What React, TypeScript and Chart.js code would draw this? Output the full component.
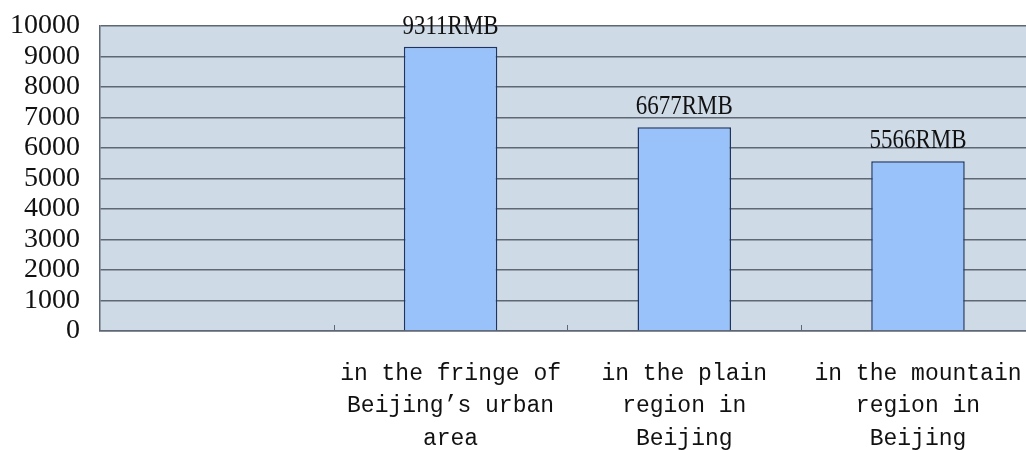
import React, { useEffect, useRef } from "react";
import { Chart, registerables } from "chart.js";

Chart.register(...registerables);

const categories: (string | string[])[] = [
  "",
  ["in the fringe of", "Beijing’s urban", "area"],
  ["in the plain", "region in", "Beijing"],
  ["in the mountain", "region in", "Beijing"],
];
const incomeValues: (number | null)[] = [null, 9311, 6677, 5566];
const valueLabels: string[] = ["", "9311RMB", "6677RMB", "5566RMB"];
const yMin = 0;
const yMax = 10000;
const yStep = 1000;

const PLOT_BG = "#cfdae7";
const GRID = "#5f6674";
const BAR_FILL = "#99c2fb";
const BAR_BORDER = "#1e3461";

const plotBg = {
  id: "plotBg",
  beforeDraw(chart: any) {
    const { ctx, chartArea } = chart;
    ctx.save();
    ctx.fillStyle = "#ffffff";
    ctx.fillRect(0, 0, chart.width, chart.height);
    ctx.fillStyle = PLOT_BG;
    ctx.fillRect(chartArea.left, chartArea.top, chartArea.right - chartArea.left, chartArea.bottom - chartArea.top);
    ctx.restore();
  },
};

const innerTicks = {
  id: "innerTicks",
  afterDatasetsDraw(chart: any) {
    const { ctx, chartArea } = chart;
    const x = chart.scales.x;
    ctx.save();
    ctx.strokeStyle = GRID;
    ctx.lineWidth = 1;
    for (let i = 0; i < categories.length - 1; i++) {
      const px = Math.round((x.getPixelForTick(i) + x.getPixelForTick(i + 1)) / 2) + 0.5;
      ctx.beginPath();
      ctx.moveTo(px, chartArea.bottom);
      ctx.lineTo(px, chartArea.bottom - 6);
      ctx.stroke();
    }
    ctx.restore();
  },
};

const valueLabelPlugin = {
  id: "valueLabels",
  afterDatasetsDraw(chart: any) {
    const { ctx } = chart;
    const meta = chart.getDatasetMeta(0);
    ctx.save();
    ctx.fillStyle = "#111111";
    ctx.font = "27px 'Liberation Serif'";
    ctx.textAlign = "center";
    ctx.textBaseline = "alphabetic";
    meta.data.forEach((bar: any, i: number) => {
      if (incomeValues[i] == null) return;
      ctx.save();
      ctx.translate(bar.x, bar.y - 13);
      ctx.scale(0.85, 1);
      ctx.fillText(valueLabels[i], 0, 0);
      ctx.restore();
    });
    ctx.restore();
  },
};

export default function App() {
  const ref = useRef<HTMLCanvasElement | null>(null);

  useEffect(() => {
    if (!ref.current) return;
    const chart = new Chart(ref.current, {
      type: "bar",
      data: {
        labels: categories,
        datasets: [
          {
            data: incomeValues,
            backgroundColor: BAR_FILL,
            borderColor: BAR_BORDER,
            borderWidth: 1.5,
            barPercentage: 0.4,
            categoryPercentage: 1,
          },
        ],
      },
      options: {
        responsive: false,
        animation: false,
        layout: { padding: { top: 15, right: 4, left: 0, bottom: 0 } },
        plugins: {
          legend: { display: false },
          tooltip: { enabled: false },
        },
        scales: {
          x: {
            grid: { display: false },
            border: { display: true, color: GRID, width: 1.5 },
            ticks: {
              color: "#111111",
              font: { family: "'Liberation Mono'", size: 23, lineHeight: 1.43 },
              padding: 18,
              maxRotation: 0,
              minRotation: 0,
              autoSkip: false,
            },
            afterFit(scale: any) {
              scale.height = 119;
            },
          },
          y: {
            min: yMin,
            max: yMax,
            grid: { color: GRID, lineWidth: 1.5, drawTicks: false },
            border: { display: true, color: GRID, width: 1.5 },
            ticks: {
              stepSize: yStep,
              autoSkip: false,
              color: "#111111",
              font: { family: "'Liberation Serif'", size: 28 },
              padding: 20,
              callback: (v: any) => String(v),
            },
            afterFit(scale: any) {
              scale.width = 100;
            },
          },
        },
      },
      plugins: [plotBg, innerTicks, valueLabelPlugin],
    });
    return () => chart.destroy();
  }, []);

  return (
    <div
      style={{
        position: "fixed",
        left: 0,
        top: 0,
        width: 1026,
        height: 450,
        overflow: "hidden",
        background: "#ffffff",
      }}
    >
      <canvas
        ref={ref}
        width={1040}
        height={461}
        style={{ width: 1040, height: 461, display: "block", marginTop: -11 }}
      />
    </div>
  );
}
